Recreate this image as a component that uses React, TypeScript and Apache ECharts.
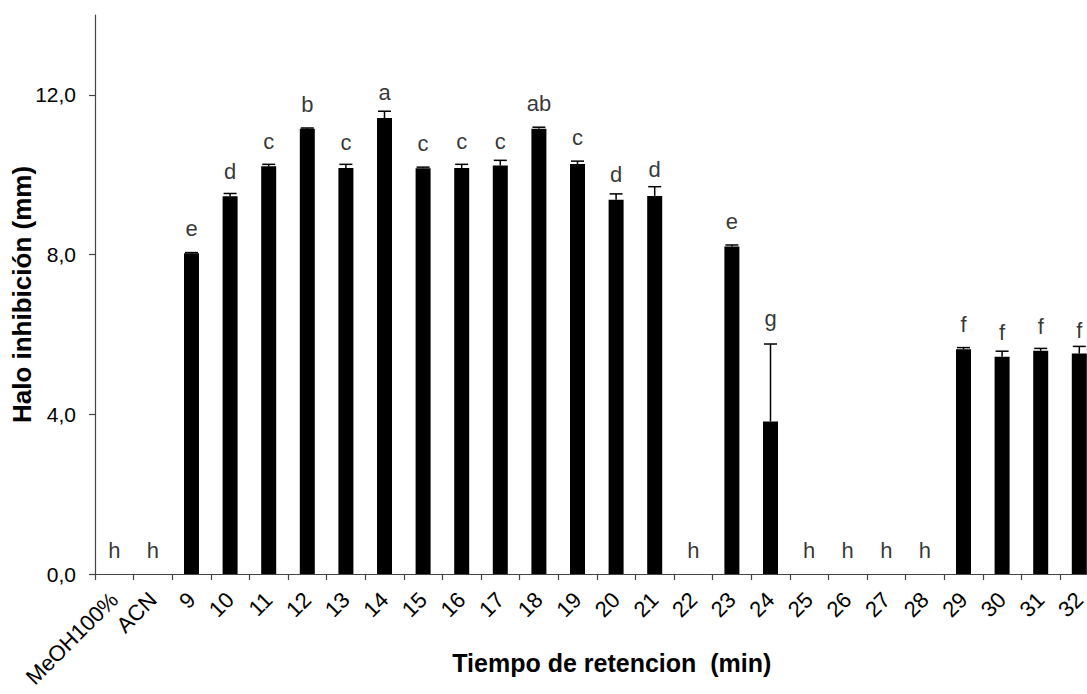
import React, { useEffect, useRef } from "react";
import * as echarts from "echarts";

const categories = ["MeOH100%", "ACN", "9", "10", "11", "12", "13", "14", "15", "16", "17", "18", "19", "20", "21", "22", "23", "24", "25", "26", "27", "28", "29", "30", "31", "32"];
const halo = [0, 0, 8.03, 9.46, 10.21, 11.15, 10.17, 11.42, 10.16, 10.17, 10.23, 11.15, 10.27, 9.37, 9.47, 0, 8.2, 3.82, 0, 0, 0, 0, 5.63, 5.44, 5.59, 5.52];
const errors = [0, 0, 0.02, 0.07, 0.05, 0.02, 0.09, 0.17, 0.03, 0.09, 0.13, 0.04, 0.07, 0.15, 0.23, 0, 0.04, 1.94, 0, 0, 0, 0, 0.04, 0.14, 0.06, 0.18];
const letters = ["h", "h", "e", "d", "c", "b", "c", "a", "c", "c", "c", "ab", "c", "d", "d", "h", "e", "g", "h", "h", "h", "h", "f", "f", "f", "f"];
const letterY = [0.39, 0.39, 8.45, 9.89, 10.63, 11.55, 10.61, 11.85, 10.58, 10.62, 10.64, 11.59, 10.72, 9.81, 9.92, 0.39, 8.64, 6.2, 0.39, 0.39, 0.39, 0.39, 6.05, 5.85, 6.01, 5.91];
const yTicks = [0, 4, 8, 12];

const FONT = "'Liberation Sans', Arial, sans-serif";

export default function App() {
  const ref = useRef<HTMLDivElement>(null);
  useEffect(() => {
    if (!ref.current) return;
    const chart = echarts.init(ref.current, undefined, { renderer: "svg" });
    const errData = halo
      .map((v, i) => [i, v, errors[i]])
      .filter((d) => d[2] > 0);
    const labelData = letterY.map((y, i) => [i, y]);
    chart.setOption({
      animation: false,
      backgroundColor: "#fff",
      grid: { left: 95, top: 15, bottom: 120, right: -11.6, containLabel: false, outerBoundsMode: "none" },
      xAxis: {
        type: "category",
        data: categories,
        boundaryGap: true,
        name: "Tiempo de retencion  (min)",
        nameLocation: "middle",
        nameGap: 76,
        nameMoveOverlap: false,
        nameTextStyle: { fontFamily: FONT, fontSize: 25, fontWeight: "bold", color: "#000", padding: [0, 0, 0, 30] },
        axisLine: { lineStyle: { color: "#444", width: 1.2 } },
        axisTick: { show: true, interval: 0, length: 6, lineStyle: { color: "#444", width: 1.2 } },
        axisLabel: { interval: 0, rotate: 45, margin: 22, fontFamily: FONT, fontSize: 22, color: "#000" },
      },
      yAxis: {
        type: "value",
        min: 0,
        max: 14,
        interval: 4,
        name: "Halo inhibición (mm)",
        nameLocation: "middle",
        nameGap: 60,
        nameMoveOverlap: false,
        nameTextStyle: { fontFamily: FONT, fontSize: 26, fontWeight: "bold", color: "#000" },
        splitLine: { show: false },
        axisLine: { show: true, lineStyle: { color: "#444", width: 1.2 } },
        axisTick: { show: true, length: 6, customValues: yTicks, lineStyle: { color: "#444", width: 1.2 } },
        axisLabel: {
          customValues: yTicks,
          margin: 19,
          fontFamily: FONT,
          fontSize: 21,
          color: "#000",
          formatter: (v: number) => v.toFixed(1).replace(".", ","),
        },
      },
      series: [
        {
          type: "bar",
          data: halo,
          barWidth: 15,
          itemStyle: { color: "#000" },
          z: 2,
        },
        {
          type: "custom",
          data: errData,
          encode: { x: 0, y: 1 },
          z: 3,
          renderItem: (params: any, api: any) => {
            const i = api.value(0);
            const v = api.value(1);
            const e = api.value(2);
            const p0 = api.coord([i, v]);
            const p1 = api.coord([i, v + e]);
            const hw = 6.5;
            return {
              type: "group",
              children: [
                { type: "line", shape: { x1: p0[0], y1: p0[1], x2: p1[0], y2: p1[1] }, style: { stroke: "#000", lineWidth: 1.5 } },
                { type: "line", shape: { x1: p1[0] - hw, y1: p1[1], x2: p1[0] + hw, y2: p1[1] }, style: { stroke: "#000", lineWidth: 1.5 } },
              ],
            };
          },
        },
        {
          type: "scatter",
          data: labelData,
          symbolSize: 0,
          z: 4,
          label: {
            show: true,
            position: "inside",
            offset: [0, -8],
            fontFamily: FONT,
            fontSize: 22,
            color: "#000",
            formatter: (p: any) => letters[p.dataIndex],
          },
        },
      ],
    });
    return () => chart.dispose();
  }, []);
  return <div ref={ref} style={{ position: "absolute", left: 0, top: 0, width: 1087, height: 694 }} />;
}
